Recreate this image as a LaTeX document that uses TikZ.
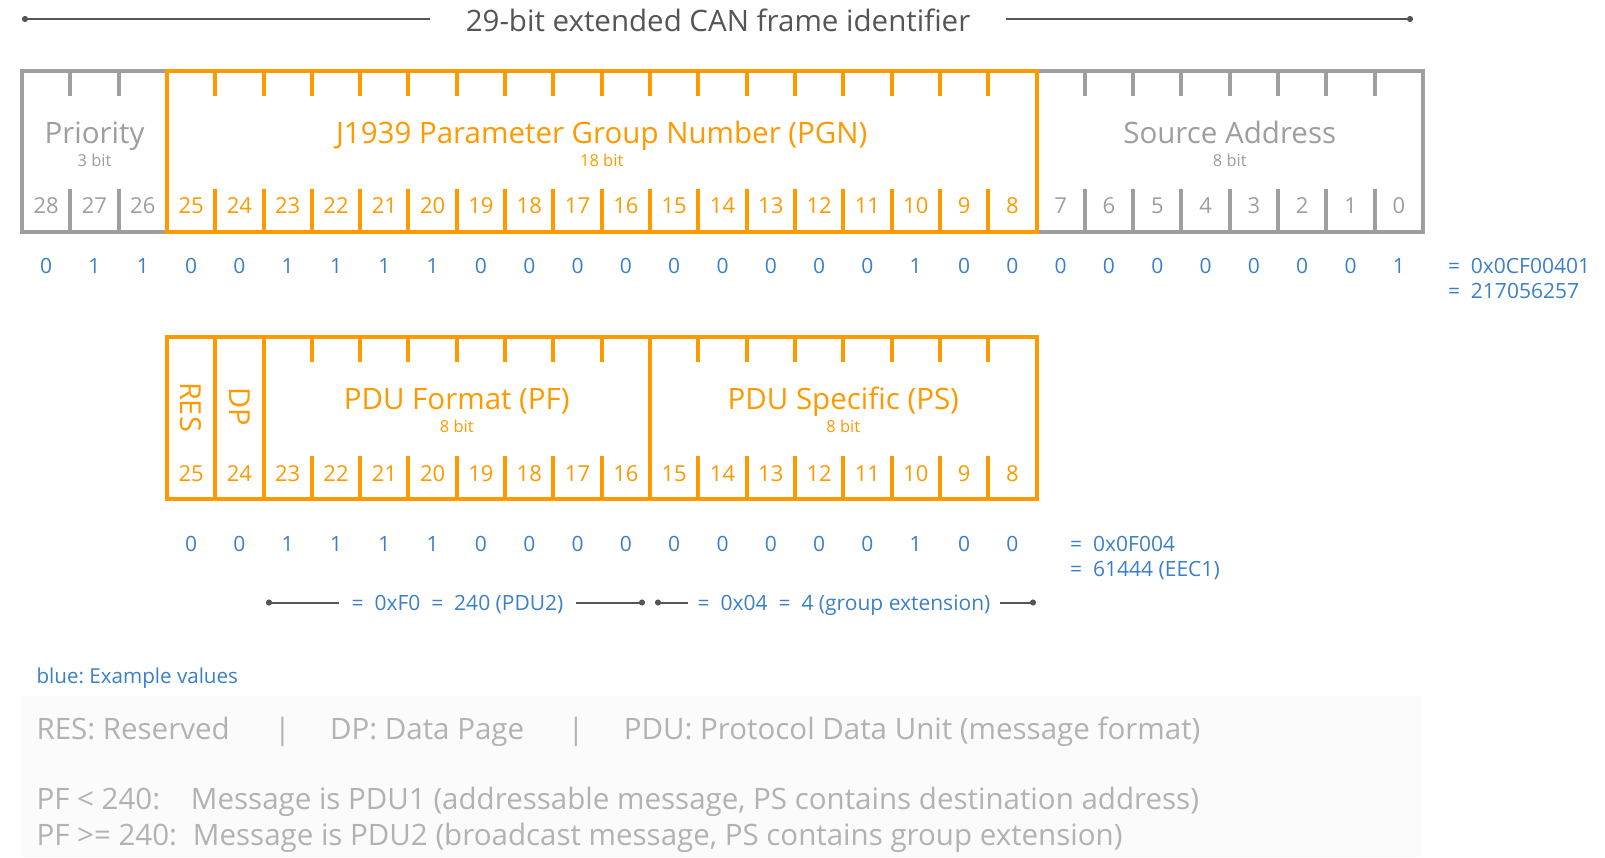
\documentclass[tikz,border=0pt]{standalone}
\usepackage{fontspec}
\setmainfont{Open Sans}
\usetikzlibrary{arrows.meta}

\definecolor{canOrange}{RGB}{255,153,0}
\definecolor{canGray}{RGB}{158,158,158}
\definecolor{canBlue}{RGB}{58,128,200}
\definecolor{canDark}{RGB}{85,85,85}
\definecolor{canNote}{RGB}{178,178,178}
\definecolor{canPanel}{RGB}{251,251,251}

\newcommand{\fsz}[1]{\fontsize{#1}{#1}\selectfont}

\begin{document}
\frenchspacing
\begin{tikzpicture}[x=1pt, y=-1pt,
  field/.style={draw, line width=4pt, inner sep=0pt, outer sep=0pt, minimum height=161.5pt},
  tick/.style={line width=4pt},
  big/.style={anchor=base, font=\fsz{29.5}},
  small/.style={anchor=base, font=\fsz{16.5}},
  bitno/.style={anchor=base, font=\fsz{22}},
  val/.style={anchor=base, font=\fsz{21}, text=canBlue},
  dim/.style={line width=2pt, draw=canDark},
  note/.style={anchor=base west, font=\fsz{29.5}, text=canNote}]
\useasboundingbox (0,0) rectangle (1605,857);

\node[anchor=base, font=\fsz{29.5}, text=canDark, inner xsep=36pt] (title) at (718,31.7) {29-bit extended CAN frame identifier};
\coordinate (idL) at (22,19);
\coordinate (idR) at (1413,19);
\draw[dim, {Circle[length=6pt]}-] (idL) -- (idL -| title.west);
\draw[dim, -{Circle[length=6pt]}] (idR -| title.east) -- (idR);

\node[field, draw=canGray, minimum width=144.93pt] (prio) at (94.47,151.25) {};
\node[field, draw=canGray, minimum width=386.48pt] (sa) at (1229.75,151.25) {};
\node[field, draw=canOrange, minimum width=869.58pt] (pgn) at (601.72,151.25) {};
\foreach \k in {1,2}
  \draw[tick, canGray] ([xshift=\k*48.31pt]prio.north west) -- ++(0,25.2) ([xshift=\k*48.31pt]prio.south west) -- ++(0,-43);
\foreach \k in {1,...,17}
  \draw[tick, canOrange] ([xshift=\k*48.31pt]pgn.north west) -- ++(0,25.2) ([xshift=\k*48.31pt]pgn.south west) -- ++(0,-43);
\foreach \k in {1,...,7}
  \draw[tick, canGray] ([xshift=\k*48.31pt]sa.north west) -- ++(0,25.2) ([xshift=\k*48.31pt]sa.south west) -- ++(0,-43);

\node[big, text=canGray] (prioname) at (prio |- 0,143) {Priority};
\node[small, text=canGray] (priobits) at (prio |- 0,166.7) {3 bit};
\node[big, text=canOrange] (pgnname) at (pgn |- 0,143) {J1939 Parameter Group Number (PGN)};
\node[small, text=canOrange] (pgnbits) at (pgn |- 0,166.7) {18 bit};
\node[big, text=canGray] (saname) at (sa |- 0,143) {Source Address};
\node[small, text=canGray] (sabits) at (sa |- 0,166.7) {8 bit};

\foreach \b in {28,27,26}
  \node[bitno, text=canGray] (n\b) at ({22+(28.5-\b)*48.31},213.3) {\b};
\foreach \b in {25,...,8}
  \node[bitno, text=canOrange] (n\b) at ({22+(28.5-\b)*48.31},213.3) {\b};
\foreach \b in {7,...,0}
  \node[bitno, text=canGray] (n\b) at ({22+(28.5-\b)*48.31},213.3) {\b};

\foreach \v [count=\c from 0] in {0,1,1,0,0,1,1,1,1,0,0,0,0,0,0,0,0,0,1,0,0,0,0,0,0,0,0,0,1}
  \node[val] (v\c) at ({22+(\c+0.5)*48.31},273.3) {\v};
\node[val, anchor=base west] (idhex) at (1444.5,273.3) {=~~0x0CF00401};
\node[val, anchor=base west] (iddec) at (1444.5,298.9) {=~~217056257};

\node[field, draw=canOrange, minimum width=48.31pt] (res) at (191.09,418) {};
\node[field, draw=canOrange, minimum width=48.31pt] (dp) at (239.4,418) {};
\node[field, draw=canOrange, minimum width=386.48pt] (pf) at (456.79,418) {};
\node[field, draw=canOrange, minimum width=386.48pt] (ps) at (843.27,418) {};
\foreach \k in {1,...,7}
  \draw[tick, canOrange] ([xshift=\k*48.31pt]pf.north west) -- ++(0,25.2) ([xshift=\k*48.31pt]pf.south west) -- ++(0,-43)
    ([xshift=\k*48.31pt]ps.north west) -- ++(0,25.2) ([xshift=\k*48.31pt]ps.south west) -- ++(0,-43);

\node[font=\fsz{29}, text=canOrange, rotate=-90] (resname) at (191.09,407) {RES};
\node[font=\fsz{29}, text=canOrange, rotate=-90] (dpname) at (239.4,407) {DP};
\node[big, text=canOrange] (pfname) at (pf |- 0,409.5) {PDU Format (PF)};
\node[small, text=canOrange] (pfbits) at (pf |- 0,432) {8 bit};
\node[big, text=canOrange] (psname) at (ps |- 0,409.5) {PDU Specific (PS)};
\node[small, text=canOrange] (psbits) at (ps |- 0,432) {8 bit};

\foreach \b in {25,...,8}
  \node[bitno, text=canOrange] (m\b) at ({166.93+(25.5-\b)*48.31},481) {\b};
\foreach \v [count=\c from 0] in {0,0,1,1,1,1,0,0,0,0,0,0,0,0,0,1,0,0}
  \node[val] (w\c) at ({166.93+(\c+0.5)*48.31},551) {\v};
\node[val, anchor=base west] (pgnhex) at (1066.7,551) {=~~0x0F004};
\node[val, anchor=base west] (pgndec) at (1066.7,576) {=~~61444 (EEC1)};

\node[val, inner xsep=12pt] (pfval) at (457.5,610) {=~~0xF0~~=~~240 (PDU2)};
\node[val, inner xsep=10pt] (psval) at (844,610) {=~~0x04~~=~~4 (group extension)};
\coordinate (pfL) at (266,602.5);
\coordinate (pfR) at (645,602.5);
\coordinate (psL) at (655,602.5);
\coordinate (psR) at (1036,602.5);
\draw[dim, {Circle[length=6pt]}-] (pfL) -- (pfL -| pfval.west);
\draw[dim, -{Circle[length=6pt]}] (pfR -| pfval.east) -- (pfR);
\draw[dim, {Circle[length=6pt]}-] (psL) -- (psL -| psval.west);
\draw[dim, -{Circle[length=6pt]}] (psR -| psval.east) -- (psR);

\node[val, anchor=base west, font=\fsz{20.6}] (legend) at (33,683.5) {blue: Example values};

\node[fill=canPanel, inner sep=0pt, minimum width=1400.5pt, minimum height=161pt, anchor=north west] (panel) at (20.5,696) {};
\node[note] (nres) at (33,739) {RES: Reserved};
\node[note, anchor=base] (sep1) at (282.5,739) {|};
\node[note] (ndp) at (326.6,739) {DP: Data Page};
\node[note, anchor=base] (sep2) at (576,739) {|};
\node[note] (npdu) at (620.4,739) {PDU: Protocol Data Unit (message format)};
\node[note] (npf1) at (33,809) {PF < 240:};
\node[note] (nmsg1) at (187.4,809) {Message is PDU1 (addressable message, PS contains destination address)};
\node[note] (npf2) at (33,845) {PF >= 240:};
\node[note] (nmsg2) at (189.4,845) {Message is PDU2 (broadcast message, PS contains group extension)};
\end{tikzpicture}
\end{document}
